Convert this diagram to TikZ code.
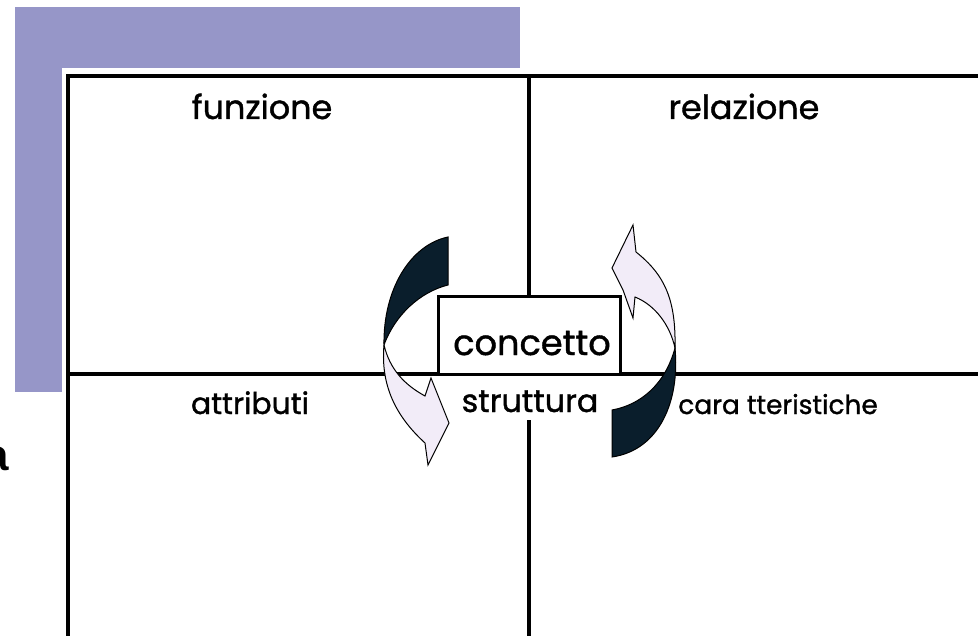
\documentclass[tikz,border=0pt]{standalone}
\usepackage{fontspec}
\setmainfont{Poppins}
\newfontfamily\labelfont{Poppins}[FakeBold=1.2]
\newfontfamily\sidefont{Liberation Sans}
\usepackage{tikz}
\usetikzlibrary{positioning}
\definecolor{framepurple}{RGB}{150,150,200}
\definecolor{twistdark}{RGB}{10,30,44}
\definecolor{twistlight}{RGB}{242,236,248}

\begin{document}
\begin{tikzpicture}[
    x=0.2mm, y=-0.2mm,
    gridline/.style={line width=0.7mm, black},
    conbox/.style={draw, line width=0.6mm, fill=white, minimum width=36.4mm, minimum height=15.6mm, inner sep=0pt},
    label/.style={font=\labelfont\fontsize{19}{19}\selectfont, anchor=base, inner sep=0pt},
    darkpart/.style={fill=twistdark, draw=black, line width=0.2mm},
    lightpart/.style={fill=twistlight, draw=black, line width=0.2mm}
]
    \useasboundingbox (0,0) rectangle (978,636);

    % Frame
    \fill[framepurple] (15,7) rectangle (520,392);
    \fill[white] (62,68) rectangle (990,650);

    % Quadrants
    \draw[gridline] (990,76) -- (68,76) -- (68,650);
    \draw[gridline] (68,374) -- (990,374);

    % Centre box
    \node[conbox] (concetto) at (529,335) {};
    \draw[gridline] (529,76) -- (concetto.north);

    % Labels
    \node[label] (funzione) at (262,119) {funzione};
    \node[label] (relazione) at (744,119) {relazione};
    \node[label, font=\labelfont\fontsize{17}{17}\selectfont] (attributi) at (250,414) {attributi};
    \node[label, anchor=base west, font=\labelfont\fontsize{15}{15}\selectfont] (caratteristiche) at (678,414) {cara tteristiche};
    \node[label, font=\labelfont\fontsize{18}{18}\selectfont] (struttura) at (530,412) {struttura};
    \node[label, font=\labelfont\fontsize{20}{20}\selectfont] (concettolbl) at (532,355) {concetto};
    \draw[gridline] (529,420) -- (529,650);

    % Left twisted arrow
    \filldraw[darkpart] (448,237) .. controls (410,245) and (383,290) .. (384,345)
        .. controls (395,315) and (420,292) .. (448,285) -- cycle;
    \filldraw[lightpart] (384,345) .. controls (380,390) and (400,420) .. (425,443)
        -- (428,465) -- (449,423) -- (431,378) -- (425,396)
        .. controls (405,385) and (390,370) .. (384,345) -- cycle;

    % Right twisted arrow
    \filldraw[lightpart] (675,348) .. controls (676,300) and (665,275) .. (636,252)
        -- (633,225) -- (612,268) -- (623,290) -- (633,318) -- (635,297)
        .. controls (655,305) and (670,325) .. (675,348) -- cycle;
    \filldraw[darkpart] (675,348) .. controls (680,400) and (660,450) .. (612,457)
        -- (612,410) .. controls (640,405) and (665,385) .. (675,348) -- cycle;

    % Cut-off side text
    \node[font=\sidefont\bfseries\fontsize{25}{25}\selectfont, anchor=base east, inner sep=0pt] (sidea) at (9,470) {a};
\end{tikzpicture}
\end{document}
